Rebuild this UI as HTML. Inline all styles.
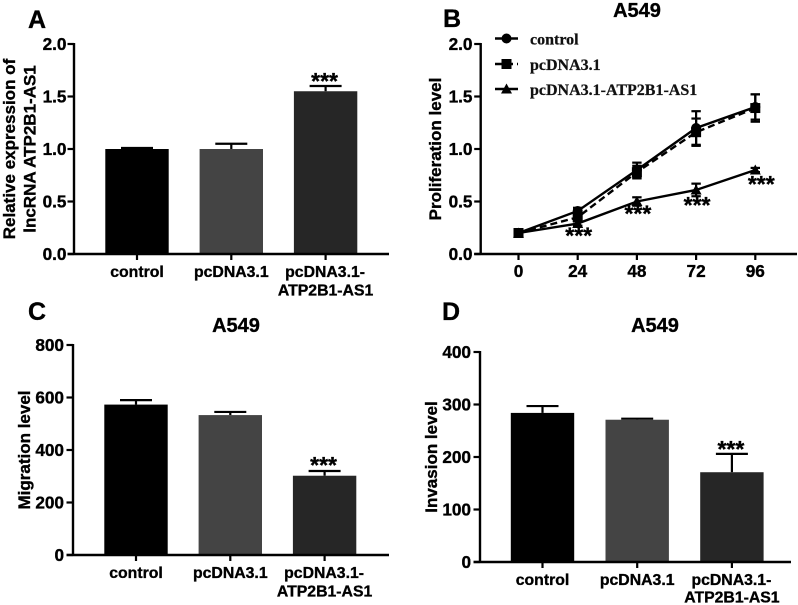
<!DOCTYPE html>
<html lang="en">
<head>
<meta charset="utf-8">
<title>A549 figure</title>
<style>
html,body{margin:0;padding:0;background:#fff}
svg{display:block;filter:blur(0.35px)}
text{font-family:"Liberation Sans",Arial,sans-serif;font-weight:bold;fill:#000;stroke:#000;stroke-width:0.35px}
.legend-text{font-family:"Liberation Serif",serif;font-size:16px;fill:#111;stroke:#111;stroke-width:0.25px}
</style>
</head>
<body>
<svg id="fig" xmlns="http://www.w3.org/2000/svg" width="798" height="605" viewBox="0 0 798 605">
  <rect width="798" height="605" fill="#fff"/>
  <text x="28" y="28" font-size="25">A</text>
  <text x="443" y="27" font-size="25">B</text>
  <text x="28" y="320" font-size="25">C</text>
  <text x="442" y="320" font-size="25">D</text>
  <text x="637" y="17" font-size="20" text-anchor="middle">A549</text>
  <text x="236" y="332" font-size="20" text-anchor="middle">A549</text>
  <text x="655" y="332" font-size="20" text-anchor="middle">A549</text>
  <text transform="translate(15,149) rotate(-90)" font-size="17" text-anchor="middle">Relative expression of</text>
  <text transform="translate(35.5,149) rotate(-90)" font-size="17" text-anchor="middle">lncRNA ATP2B1-AS1</text>
  <text transform="translate(441,149) rotate(-90)" font-size="17" text-anchor="middle">Proliferation level</text>
  <text transform="translate(30,450) rotate(-90)" font-size="17" text-anchor="middle">Migration level</text>
  <text transform="translate(437,457) rotate(-90)" font-size="17" text-anchor="middle">Invasion level</text>
</svg>
<script>
var barCategories = [["control"], ["pcDNA3.1"], ["pcDNA3.1-", "ATP2B1-AS1"]];
var barColors = ["#000000", "#444444", "#262626"];

var aTicks = ["0.0", "0.5", "1.0", "1.5", "2.0"];
var aValues = [1.0, 1.0, 1.55];
var aErrors = [0.01, 0.05, 0.05];

var cTicks = ["0", "200", "400", "600", "800"];
var cValues = [573, 533, 302];
var cErrors = [17, 12, 18];

var dTicks = ["0", "100", "200", "300", "400"];
var dValues = [284, 271, 171];
var dErrors = [13, 2, 35];

var bTicks = ["0.0", "0.5", "1.0", "1.5", "2.0"];
var timePoints = ["0", "24", "48", "72", "96"];
var controlValues = [0.2, 0.41, 0.8, 1.2, 1.4];
var controlErrors = [0.02, 0.03, 0.07, 0.16, 0.12];
var vectorValues = [0.2, 0.35, 0.78, 1.16, 1.39];
var vectorErrors = [0.02, 0.04, 0.06, 0.13, 0.13];
var lncValues = [0.2, 0.29, 0.5, 0.61, 0.8];
var lncErrors = [0.01, 0.02, 0.04, 0.06, 0.02];
var legendLabels = ["control", "pcDNA3.1", "pcDNA3.1-ATP2B1-AS1"];

var NS = "http://www.w3.org/2000/svg";
var fig = document.getElementById("fig");

function make(tag, attrs, text) {
  var el = document.createElementNS(NS, tag);
  for (var k in attrs) el.setAttribute(k, attrs[k]);
  if (text !== undefined) el.textContent = text;
  fig.appendChild(el);
  return el;
}
function line(x1, y1, x2, y2, w, name, dash) {
  var el = make("line", {x1: x1, y1: y1, x2: x2, y2: y2, stroke: "#000", "stroke-width": w});
  if (dash) el.setAttribute("stroke-dasharray", dash);
  
  
  return el;
}
function label(x, y, str, size, anchor, name) {
  var el = make("text", {x: x, y: y, "font-size": size, "text-anchor": anchor}, str);
  
  
  return el;
}
function yScale(v, ticks, top, bottom) {
  var lo = parseFloat(ticks[0]);
  var hi = parseFloat(ticks[ticks.length - 1]);
  return bottom - (v - lo) / (hi - lo) * (bottom - top);
}
function drawYAxis(p, ticks) {
  line(p.axisX, p.top - 1, p.axisX, p.bottom + 1, 2.4, p.id + "-y-axis");
  ticks.forEach(function (t) {
    var y = yScale(parseFloat(t), ticks, p.top, p.bottom);
    line(p.axisX - 6.5, y, p.axisX, y, 2.2, p.id + "-y-tick-" + t);
    label(p.labelEnd, y + 6, t, 17.2, "end", p.id + "-y-tick-label-" + t);
  });
}
function stars(x, y, name) {
  label(x, y, "***", 23, "middle", name);
}
function drawBarPanel(p, ticks, values, errors) {
  drawYAxis(p, ticks);
  values.forEach(function (v, i) {
    var cx = p.first + i * p.step;
    var y = yScale(v, ticks, p.top, p.bottom);
    var ey = yScale(v + errors[i], ticks, p.top, p.bottom);
    line(cx, y, cx, ey, 2.2, p.id + "-error-stem-" + i);
    line(cx - 16, ey, cx + 16, ey, 2.2, p.id + "-error-cap-" + i);
    var bar = make("rect", {x: cx - 31.7, y: y, width: 63.4, height: p.bottom - y, fill: barColors[i]});
    
    
    line(cx, p.bottom, cx, p.bottom + 6, 2.2, p.id + "-x-tick-" + i);
    barCategories[i].forEach(function (s, j) {
      label(cx + (j === 0 && i === 2 ? -0.5 : 0), p.catBase + j * p.catGap, s, 15.8, "middle", p.id + "-x-label-" + i + "-" + j);
    });
  });
  line(p.axisX - 6.5, p.bottom, p.axisEnd, p.bottom, 2.4, p.id + "-x-axis");
  var last = values.length - 1;
  var starY = yScale(values[last] + errors[last], ticks, p.top, p.bottom);
  stars(p.first + last * p.step - 1, starY + p.starOffset, p.id + "-significance-stars");
}

drawBarPanel({id: "panel-a", axisX: 74, axisEnd: 389, labelEnd: 66.5, top: 44, bottom: 254, first: 137, step: 94.3, catBase: 277, catGap: 18.5, starOffset: 3}, aTicks, aValues, aErrors);
drawBarPanel({id: "panel-c", axisX: 73, axisEnd: 389, labelEnd: 64, top: 345, bottom: 555, first: 136, step: 94.3, catBase: 578, catGap: 18.5, starOffset: 2}, cTicks, cValues, cErrors);
drawBarPanel({id: "panel-d", axisX: 480, axisEnd: 791, labelEnd: 471, top: 352, bottom: 562, first: 542.5, step: 94.7, catBase: 585, catGap: 17.5, starOffset: 3}, dTicks, dValues, dErrors);

/* Panel B: line chart */
var pB = {id: "panel-b", axisX: 480.7, labelEnd: 472.5, top: 44, bottom: 254, first: 518.5, step: 59.2};
function bx(i) { return pB.first + i * pB.step; }
function by(v) { return yScale(v, bTicks, pB.top, pB.bottom); }

function marker(kind, x, y, name) {
  var el;
  if (kind === "circle") {
    el = make("circle", {cx: x, cy: y, r: 5, fill: "#000"});
  } else if (kind === "square") {
    el = make("rect", {x: x - 5, y: y - 5, width: 10, height: 10, fill: "#000"});
  } else {
    el = make("polygon", {points: (x - 5.5) + "," + (y + 4.5) + " " + (x + 5.5) + "," + (y + 4.5) + " " + x + "," + (y - 5.5), fill: "#000"});
  }
  
  
}
function drawSeries(name, kind, values, errors, dash) {
  errors.forEach(function (e, i) {
    var x = bx(i);
    line(x, by(values[i] + e), x, by(values[i] - e), 2.2, name + "-error-stem-" + i);
    line(x - 4.7, by(values[i] + e), x + 4.7, by(values[i] + e), 2.2, name + "-error-cap-top-" + i);
    line(x - 4.7, by(values[i] - e), x + 4.7, by(values[i] - e), 2.2, name + "-error-cap-bottom-" + i);
  });
  var pts = values.map(function (v, i) { return bx(i) + "," + by(v); }).join(" ");
  var poly = make("polyline", {points: pts, fill: "none", stroke: "#000", "stroke-width": 2.4});
  if (dash) poly.setAttribute("stroke-dasharray", dash);
  
  
  values.forEach(function (v, i) {
    marker(kind, bx(i), by(v), name + "-marker-" + i);
  });
}
drawYAxis(pB, bTicks);
line(pB.axisX - 6.5, pB.bottom, 797, pB.bottom, 2.4, "panel-b-x-axis");
timePoints.forEach(function (t, i) {
  line(bx(i), pB.bottom, bx(i), pB.bottom + 6, 2.2, "panel-b-x-tick-" + t);
  label(bx(i), 277, t, 17.2, "middle", "panel-b-x-label-" + t);
});
drawSeries("control-series", "circle", controlValues, controlErrors);
drawSeries("lnc-series", "triangle", lncValues, lncErrors);
drawSeries("vector-series", "square", vectorValues, vectorErrors, "7 4");

[1, 2, 3, 4].forEach(function (idx) {
  stars(bx(idx) + (idx === 4 ? 6 : 1), by(lncValues[idx]) + (idx === 4 ? 22 : idx === 3 ? 23 : idx === 2 ? 20 : 20), "panel-b-significance-stars-" + timePoints[idx]);
});

var legendKinds = ["circle", "square", "triangle"];
var legendRows = [38.5, 64, 89];
var legendBase = [44.5, 70, 95];
legendLabels.forEach(function (s, i) {
  line(495, legendRows[i], 518, legendRows[i], 2.4, "legend-line-" + i, i === 1 ? "7 4" : null);
  marker(legendKinds[i], 506.5, legendRows[i], "legend-marker-" + i);
  var t = make("text", {x: 530, y: legendBase[i], "class": "legend-text"}, s);
  
  
});
</script>
</body>
</html>
